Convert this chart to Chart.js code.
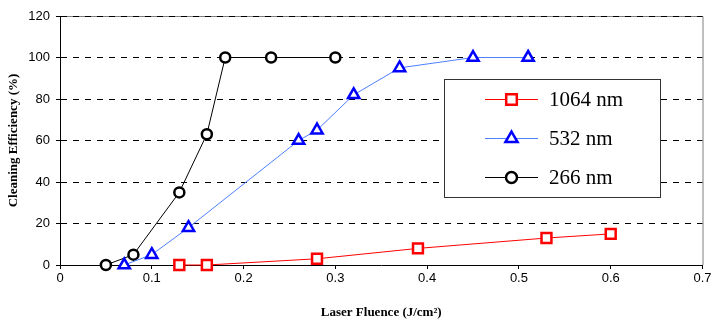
<!DOCTYPE html>
<html>
<head>
<meta charset="utf-8">
<script src="https://cdn.jsdelivr.net/npm/chart.js@4.4.0/dist/chart.umd.min.js"></script>
<style>
  html, body { margin:0; padding:0; background:#fff; }
  #wrap { width:712px; height:322px; position:relative; }
</style>
</head>
<body>
<div id="wrap"><canvas id="chart"></canvas></div>
<script>
/* =========================
   DATA
========================= */
const xTicks = [0, 0.1, 0.2, 0.3, 0.4, 0.5, 0.6, 0.7]
const yTicks = [0, 20, 40, 60, 80, 100, 120]

const seriesNames = ["1064 nm", "532 nm", "266 nm"]

const x1064 = [0.13, 0.16, 0.28, 0.39, 0.53, 0.60]
const y1064 = [0, 0, 3, 8, 13, 15]

const x532 = [0.07, 0.10, 0.14, 0.26, 0.28, 0.32, 0.37, 0.45, 0.51]
const y532 = [0, 5, 18, 60, 65, 82, 95, 100, 100]

const x266 = [0.05, 0.08, 0.13, 0.16, 0.18, 0.23, 0.30]
const y266 = [0, 5, 35, 63, 100, 100, 100]

function pts(xs, ys){
  return xs.map((x, i) => ({ x: x, y: ys[i] }))
}

/* =========================
   PLUGINS
========================= */
// grey frame on top and right of plot
const frame = {
  id: "frame",
  beforeDraw(chart){
    const { ctx, chartArea: a } = chart
    ctx.save()
    ctx.strokeStyle = "#808080"
    ctx.lineWidth = 1
    ctx.beginPath()
    ctx.moveTo(a.left, a.top + 0.5)
    ctx.lineTo(a.right + 0.5, a.top + 0.5)
    ctx.lineTo(a.right + 0.5, a.bottom)
    ctx.stroke()
    ctx.restore()
  }
}

// boxed legend inside the plot
const boxLegend = {
  id: "boxLegend",
  afterDatasetsDraw(chart){
    const ctx = chart.ctx
    const bx = 444.5, by = 79.5, bw = 216, bh = 118
    ctx.save()
    ctx.fillStyle = "#fff"
    ctx.fillRect(bx, by, bw, bh)
    ctx.strokeStyle = "#333"
    ctx.lineWidth = 1
    ctx.strokeRect(bx, by, bw, bh)

    const rows = [99, 138, 177]
    chart.data.datasets.forEach((ds, i) => {
      const y = rows[i]
      ctx.strokeStyle = ds.borderColor
      ctx.lineWidth = 1
      ctx.beginPath()
      ctx.moveTo(485, y + 0.5)
      ctx.lineTo(538, y + 0.5)
      ctx.stroke()

      ctx.fillStyle = "#fff"
      ctx.strokeStyle = ds.pointBorderColor
      ctx.lineWidth = 2.5
      Chart.helpers.drawPoint(ctx, {
        pointStyle: ds.pointStyle,
        radius: ds.pointRadius + 0.5,
        borderWidth: 2.5,
        rotation: 0
      }, 511.5, y + 0.5)

      ctx.fillStyle = "#000"
      ctx.font = "21px 'Liberation Serif', 'Times New Roman', serif"
      ctx.textBaseline = "middle"
      ctx.textAlign = "left"
      ctx.fillText(ds.label, 549, y + 1)
    })
    ctx.restore()
  }
}

/* =========================
   CHART
========================= */
const tickFont = { family: "'Liberation Sans', Arial, sans-serif", size: 13 }
const titleFont = { family: "'Liberation Serif', 'Times New Roman', serif", size: 13, weight: "bold" }

new Chart(document.getElementById("chart"), {
  type: "scatter",
  data: {
    datasets: [
      {
        label: seriesNames[0],
        data: pts(x1064, y1064),
        showLine: true,
        borderColor: "#ff0000",
        borderWidth: 1,
        pointStyle: "rect",
        pointRadius: 7,
        pointBorderWidth: 2.5,
        pointBorderColor: "#ff0000",
        pointBackgroundColor: "#fff",
        clip: false
      },
      {
        label: seriesNames[1],
        data: pts(x532, y532),
        showLine: true,
        borderColor: "#4d7fff",
        borderWidth: 1,
        pointStyle: "triangle",
        pointRadius: 6.5,
        pointBorderWidth: 2.5,
        pointBorderColor: "#0000ff",
        pointBackgroundColor: "#fff",
        clip: false
      },
      {
        label: seriesNames[2],
        data: pts(x266, y266),
        showLine: true,
        borderColor: "#000000",
        borderWidth: 1,
        pointStyle: "circle",
        pointRadius: 5,
        pointBorderWidth: 2.5,
        pointBorderColor: "#000000",
        pointBackgroundColor: "#fff",
        clip: false
      }
    ]
  },
  options: {
    responsive: true,
    maintainAspectRatio: false,
    animation: false,
    layout: { padding: { left: 0, right: 8, top: 16, bottom: 0 } },
    plugins: {
      legend: { display: false },
      tooltip: { enabled: false }
    },
    elements: { line: { tension: 0 } },
    scales: {
      x: {
        type: "linear",
        min: 0,
        max: 0.7,
        afterBuildTicks: s => { s.ticks = xTicks.map(v => ({ value: v })) },
        afterFit: s => { s.height = 57; s.paddingLeft = 0; s.paddingRight = 0 },
        grid: {
          drawOnChartArea: false,
          drawTicks: true,
          tickLength: 4,
          tickColor: "#000",
          tickBorderDash: []
        },
        border: { display: true, color: "#000", width: 1 },
        ticks: {
          font: tickFont,
          color: "#000",
          padding: 2,
          maxRotation: 0,
          callback: v => String(+v.toFixed(1))
        },
        title: {
          display: true,
          text: "Laser Fluence (J/cm²)",
          font: titleFont,
          color: "#000",
          padding: { top: 0, bottom: 2 }
        }
      },
      y: {
        type: "linear",
        min: 0,
        max: 120,
        afterBuildTicks: s => { s.ticks = yTicks.map(v => ({ value: v })) },
        afterFit: s => { s.width = 60; s.paddingTop = 0; s.paddingBottom = 0 },
        grid: {
          color: "#000",
          lineWidth: 1,
          drawTicks: true,
          tickLength: 4,
          tickColor: "#000",
          tickBorderDash: []
        },
        border: { display: true, color: "#000", width: 1, dash: [6, 6] },
        ticks: {
          font: tickFont,
          color: "#000",
          padding: 6
        },
        title: {
          display: true,
          text: "Cleaning Efficiency (%)",
          font: titleFont,
          color: "#000",
          padding: { top: 6, bottom: 0 }
        }
      }
    }
  },
  plugins: [frame, boxLegend]
})
</script>
</body>
</html>
